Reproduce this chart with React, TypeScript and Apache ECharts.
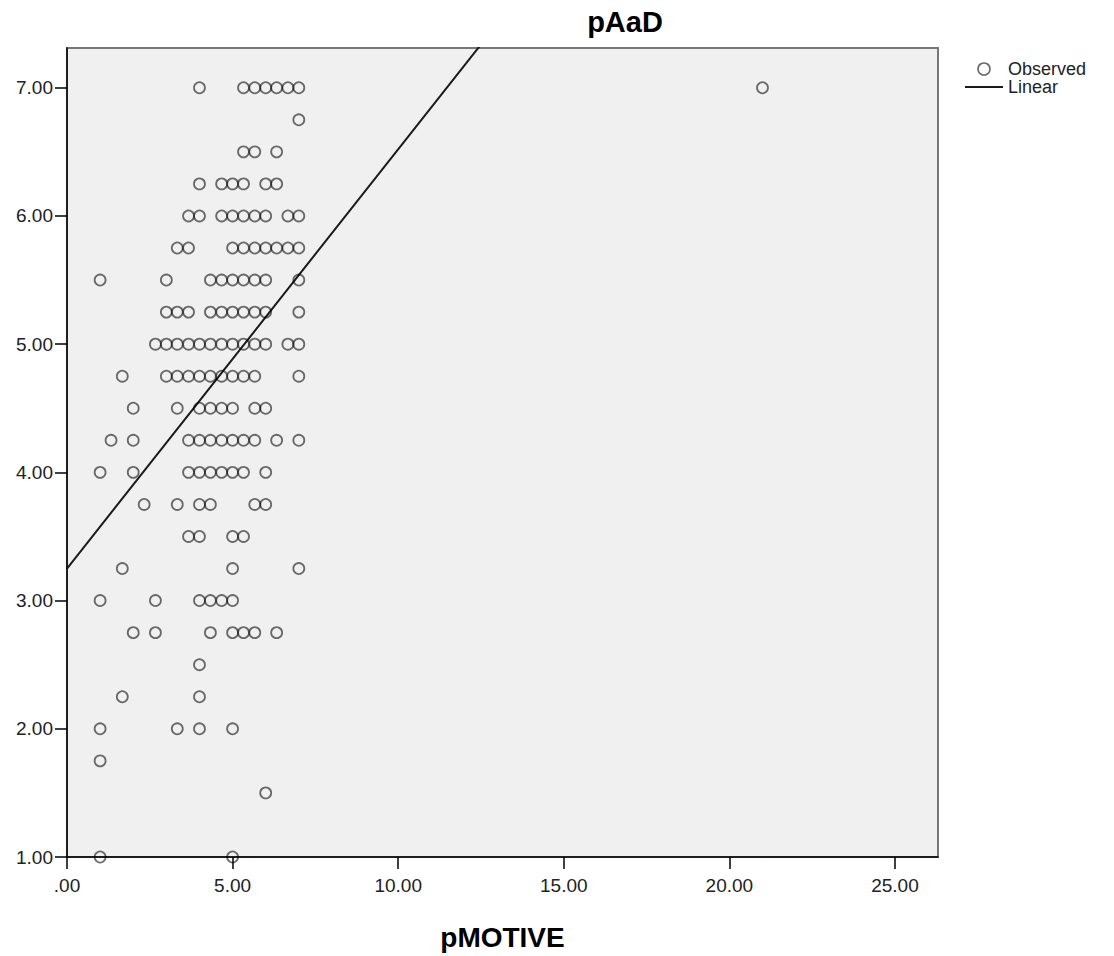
import React, { useEffect, useRef } from "react";
import * as echarts from "echarts";

// Observed points: pMOTIVE (x) by pAaD (y)
const observed: [number, number][] = [
  [4, 7], [5.33, 7], [5.67, 7], [6, 7], [6.33, 7], [6.67, 7], [7, 7], [21, 7],
  [7, 6.75],
  [5.33, 6.5], [5.67, 6.5], [6.33, 6.5],
  [4, 6.25], [4.67, 6.25], [5, 6.25], [5.33, 6.25], [6, 6.25], [6.33, 6.25],
  [3.67, 6], [4, 6], [4.67, 6], [5, 6], [5.33, 6], [5.67, 6], [6, 6], [6.67, 6], [7, 6],
  [3.33, 5.75], [3.67, 5.75], [5, 5.75], [5.33, 5.75], [5.67, 5.75], [6, 5.75], [6.33, 5.75], [6.67, 5.75], [7, 5.75],
  [1, 5.5], [3, 5.5], [4.33, 5.5], [4.67, 5.5], [5, 5.5], [5.33, 5.5], [5.67, 5.5], [6, 5.5], [7, 5.5],
  [3, 5.25], [3.33, 5.25], [3.67, 5.25], [4.33, 5.25], [4.67, 5.25], [5, 5.25], [5.33, 5.25], [5.67, 5.25], [6, 5.25], [7, 5.25],
  [2.67, 5], [3, 5], [3.33, 5], [3.67, 5], [4, 5], [4.33, 5], [4.67, 5], [5, 5], [5.33, 5], [5.67, 5], [6, 5], [6.67, 5], [7, 5],
  [1.67, 4.75], [3, 4.75], [3.33, 4.75], [3.67, 4.75], [4, 4.75], [4.33, 4.75], [4.67, 4.75], [5, 4.75], [5.33, 4.75], [5.67, 4.75], [7, 4.75],
  [2, 4.5], [3.33, 4.5], [4, 4.5], [4.33, 4.5], [4.67, 4.5], [5, 4.5], [5.67, 4.5], [6, 4.5],
  [1.33, 4.25], [2, 4.25], [3.67, 4.25], [4, 4.25], [4.33, 4.25], [4.67, 4.25], [5, 4.25], [5.33, 4.25], [5.67, 4.25], [6.33, 4.25], [7, 4.25],
  [1, 4], [2, 4], [3.67, 4], [4, 4], [4.33, 4], [4.67, 4], [5, 4], [5.33, 4], [6, 4],
  [2.33, 3.75], [3.33, 3.75], [4, 3.75], [4.33, 3.75], [5.67, 3.75], [6, 3.75],
  [3.67, 3.5], [4, 3.5], [5, 3.5], [5.33, 3.5],
  [1.67, 3.25], [5, 3.25], [7, 3.25],
  [1, 3], [2.67, 3], [4, 3], [4.33, 3], [4.67, 3], [5, 3],
  [2, 2.75], [2.67, 2.75], [4.33, 2.75], [5, 2.75], [5.33, 2.75], [5.67, 2.75], [6.33, 2.75],
  [4, 2.5],
  [1.67, 2.25], [4, 2.25],
  [1, 2], [3.33, 2], [4, 2], [5, 2],
  [1, 1.75],
  [6, 1.5],
  [1, 1], [5, 1],
];

// Linear fit
const linearIntercept = 3.25;
const linearSlope = 0.327;

// Axes
const xMin = 0;
const xMax = 26.3;
const yMin = 1;
const yMax = 7.31;
const xTickValues = [0, 5, 10, 15, 20, 25];
const yTickValues = [1, 2, 3, 4, 5, 6, 7];

const FONT = "'Liberation Sans', Arial, sans-serif";

export default function App() {
  const ref = useRef<HTMLDivElement>(null);

  useEffect(() => {
    if (!ref.current) return;
    const chart = echarts.init(ref.current, null, { renderer: "svg" });
    const linearData = [
      [xMin, linearIntercept + linearSlope * xMin],
      [xMax, linearIntercept + linearSlope * xMax],
    ];
    chart.setOption({
      animation: false,
      backgroundColor: "#ffffff",
      textStyle: { fontFamily: FONT },
      title: {
        text: "pAaD",
        left: 620,
        textAlign: "center",
        top: 2,
        textStyle: { fontFamily: FONT, fontSize: 29, fontWeight: "bold", color: "#000" },
      },
      legend: {
        orient: "vertical",
        left: 959,
        top: 55,
        itemWidth: 38,
        itemHeight: 12,
        itemGap: 0,
        textStyle: { fontFamily: FONT, fontSize: 18, lineHeight: 18, color: "#222" },
        data: [
          {
            name: "Observed",
            icon: "circle",
            itemStyle: { color: "rgba(0,0,0,0)", borderColor: "#444", borderWidth: 1.6 },
          },
          {
            name: "Linear",
            itemStyle: { color: "rgba(0,0,0,0)", borderColor: "rgba(0,0,0,0)", borderWidth: 0 },
            lineStyle: { color: "#1a1a1a", width: 2 },
          },
        ],
      },
      grid: {
        left: 67,
        width: 871,
        top: 48,
        height: 814,
        show: true,
        backgroundColor: "#f0f0f0",
        borderColor: "#777",
        borderWidth: 2,
      },
      xAxis: {
        type: "value",
        min: xMin,
        max: xMax,
        name: "pMOTIVE",
        nameLocation: "middle",
        nameGap: 66,
        nameTextStyle: { fontFamily: FONT, fontSize: 28, fontWeight: "bold", color: "#000" },
        splitLine: { show: false },
        axisLine: { show: true, onZero: false, lineStyle: { color: "#000", width: 1.5 } },
        axisTick: { show: true, length: 12, customValues: xTickValues, lineStyle: { color: "#000", width: 1.5 } },
        axisLabel: {
          customValues: xTickValues,
          margin: 19,
          fontFamily: FONT,
          fontSize: 19,
          color: "#222",
          formatter: (v: number) => (v === 0 ? ".00" : v.toFixed(2)),
        },
      },
      yAxis: {
        type: "value",
        min: yMin,
        max: yMax,
        splitLine: { show: false },
        axisLine: { show: true, onZero: false, lineStyle: { color: "#000", width: 1.5 } },
        axisTick: { show: true, length: 12, customValues: yTickValues, lineStyle: { color: "#000", width: 1.5 } },
        axisLabel: {
          customValues: yTickValues,
          margin: 14,
          fontFamily: FONT,
          fontSize: 19,
          color: "#222",
          formatter: (v: number) => v.toFixed(2),
        },
      },
      series: [
        {
          name: "Observed",
          type: "scatter",
          symbol: "circle",
          symbolSize: 11,
          itemStyle: { color: "rgba(0,0,0,0)", borderColor: "rgba(0,0,0,0.7)", borderWidth: 1.8 },
          data: observed,
          z: 3,
        },
        {
          name: "Linear",
          type: "line",
          symbol: "none",
          clip: true,
          itemStyle: { color: "#1a1a1a" },
          lineStyle: { color: "#1a1a1a", width: 2 },
          data: linearData,
          z: 2,
        },
      ],
    });
    return () => chart.dispose();
  }, []);

  return (
    <div
      ref={ref}
      style={{ position: "absolute", left: 0, top: 0, width: 1114, height: 956 }}
    />
  );
}
